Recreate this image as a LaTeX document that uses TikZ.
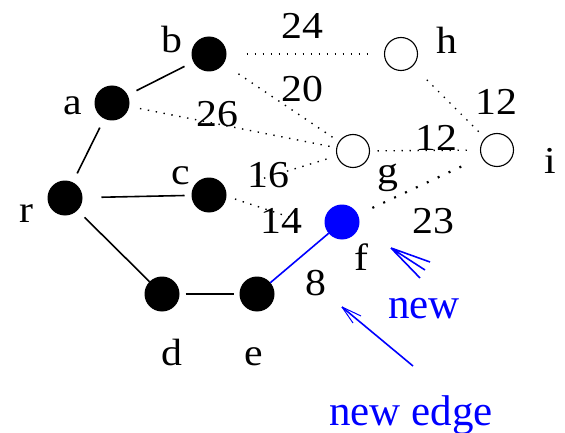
\documentclass[tikz,border=0pt]{standalone}
\usepackage{graphicx}
\usepackage{fontspec}
\setmainfont{Liberation Serif}
% slightly widened serif type for vertex names and weights
\newcommand\widetext[1]{\scalebox{1.1}[1]{#1}}
\begin{document}
\begin{tikzpicture}[x=1pt,y=-1pt,
  vtx/.style={circle,fill=black,minimum size=35pt,inner sep=0pt,outer sep=0pt},
  openvtx/.style={circle,draw=black,line width=1.1pt,fill=white,minimum size=33pt,inner sep=0pt,outer sep=0pt},
  newvtx/.style={vtx,fill=blue},
  lbl/.style={anchor=base,inner sep=0pt,font=\fontsize{38}{40}\selectfont},
  note/.style={anchor=base,inner sep=0pt,text=blue,font=\fontsize{43}{46}\selectfont},
  tree/.style={line width=1.6pt},
  cand/.style={line width=1.4pt,dash pattern=on 1.4pt off 6.6pt},
  best/.style={line width=2.2pt,dash pattern=on 2pt off 10pt},
  pointer/.style={blue,line width=1.6pt},
  barb/.style={blue,line width=1pt}
]
\useasboundingbox (0,0) rectangle (565,433);

% vertices
\node[vtx] (a) at (112,103) {};
\node[vtx] (b) at (209,54) {};
\node[vtx] (r) at (65,198) {};
\node[vtx] (c) at (209,195) {};
\node[vtx] (d) at (162,294) {};
\node[vtx] (e) at (257,294) {};
\node[newvtx] (f) at (342,222) {};
\node[openvtx] (g) at (353,151) {};
\node[openvtx] (h) at (401,54) {};
\node[openvtx] (i) at (497,150) {};

% tree edges
\draw[tree] (a) edge[shorten <=10pt,shorten >=10pt] (b)
            (r) edge[shorten <=10pt,shorten >=10pt] (a)
            (r) edge[shorten <=19pt,shorten >=7pt] (c)
            (r) edge[shorten <=10pt] (d)
            (d) edge[shorten <=6pt,shorten >=6pt] (e);
\draw[tree,blue] (e) -- (f);

% candidate edges
\draw[cand] (b) edge[shorten <=20pt,shorten >=17pt] (h)
            (b) edge[shorten <=18pt,shorten >=3pt] (g)
            (a) edge[shorten <=11pt,shorten >=5pt] (g)
            (c) edge[shorten <=32pt,shorten >=11pt] (g)
            (c.-4) edge[shorten <=9pt,shorten >=28pt] (f.204)
            (g) edge[shorten <=8pt,shorten >=10pt] (i)
            (h) edge[shorten <=20pt,shorten >=3pt] (i);
\draw[best,shorten <=16pt,shorten >=13pt] (f) -- (i);

% vertex names
\node[lbl] (la) at (73,115) {\widetext{a}};
\node[lbl] (lb) at (172,53) {\widetext{b}};
\node[lbl] (lc) at (181,185) {\widetext{c}};
\node[lbl] (lr) at (26,222) {\widetext{r}};
\node[lbl] (ld) at (172,365) {\widetext{d}};
\node[lbl] (le) at (254,365) {\widetext{e}};
\node[lbl] (lf) at (361,270) {\widetext{f}};
\node[lbl] (lg) at (388,183) {\widetext{g}};
\node[lbl] (lh) at (447,54) {\widetext{h}};
\node[lbl] (li) at (550,173) {\widetext{i}};

% edge weights
\node[lbl] (w24) at (302,39) {\widetext{24}};
\node[lbl] (w20) at (302,102) {\widetext{20}};
\node[lbl] (w26) at (217,127) {\widetext{26}};
\node[lbl] (w16) at (268,187) {\widetext{16}};
\node[lbl] (w14) at (281,233) {\widetext{14}};
\node[lbl] (w12a) at (436,150) {\widetext{12}};
\node[lbl] (w12b) at (496,115) {\widetext{12}};
\node[lbl] (w23) at (433,233) {\widetext{23}};
\node[lbl] (w8) at (316,295) {\widetext{8}};

% annotations
\node[note] (nnew) at (424,318) {new};
\node[note] (nedge) at (411,425) {new edge};

\coordinate (p1) at (391,248);
\coordinate (p1a) at (430,262);
\coordinate (p1b) at (425,270);
\coordinate (p1c) at (420,278);
\draw[pointer] (p1) -- (p1a) (p1) -- (p1b) (p1) -- (p1c);

\coordinate (p2) at (342,307);
\coordinate (p2t) at (413,366);
\coordinate (p2a) at (361,316);
\coordinate (p2b) at (353,323);
\draw[pointer] (p2t) -- (p2);
\draw[barb] (p2) -- (p2a) (p2) -- (p2b);
\end{tikzpicture}
\end{document}
